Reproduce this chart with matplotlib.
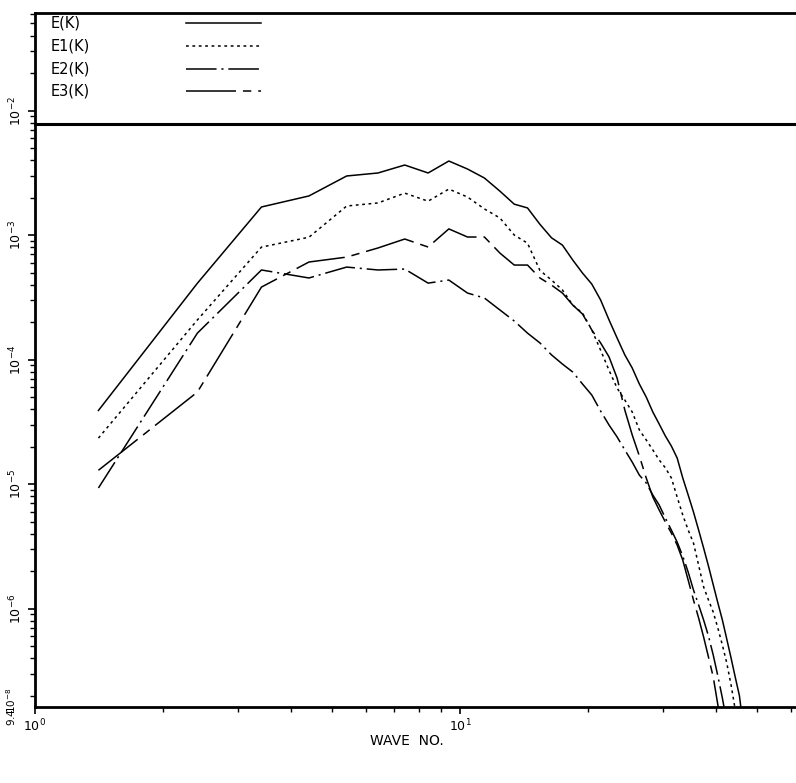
import matplotlib

matplotlib.use("Agg")
import matplotlib.pyplot as plt
import numpy as np
from matplotlib.ticker import LogLocator, NullFormatter

plt.rcParams["font.family"] = ["DejaVu Sans"]
plt.rcParams["mathtext.default"] = "regular"
plt.rcParams["lines.scale_dashes"] = False

# wave numbers of the shells
wave_no = [1.41, 2.41, 3.41, 4.41, 5.41, 6.41, 7.41, 8.41, 9.41, 10.41,
           11.41, 12.41, 13.41, 14.41, 15.41, 16.41, 17.41, 18.41, 19.41, 20.41,
           21.41, 22.41, 23.41, 24.41, 25.41, 26.41, 27.41, 28.41, 29.41, 30.41,
           31.41, 32.41, 33.41, 34.41, 35.41, 36.41, 37.41, 38.41, 39.41, 40.41,
           41.41, 42.41, 43.41, 44.41, 45.41, 46.41]

E = [3.9e-5, 4.1e-4, 1.68e-3, 2.06e-3, 2.98e-3, 3.15e-3, 3.65e-3, 3.15e-3, 3.93e-3, 3.39e-3,
     2.87e-3, 2.25e-3, 1.77e-3, 1.65e-3, 1.22e-3, 9.5e-4, 8.3e-4, 6.3e-4, 4.95e-4, 4.04e-4,
     3.01e-4, 2.08e-4, 1.49e-4, 1.09e-4, 8.55e-5, 6.36e-5, 5.0e-5, 3.79e-5, 3.03e-5, 2.43e-5,
     2.02e-5, 1.62e-5, 1.12e-5, 8.16e-6, 5.96e-6, 4.27e-6, 3.06e-6, 2.19e-6, 1.55e-6, 1.11e-6,
     8.09e-7, 5.68e-7, 4.0e-7, 2.8e-7, 2.0e-7, 1.1e-7]

E1 = [2.34e-5, 2.08e-4, 8.0e-4, 9.6e-4, 1.71e-3, 1.81e-3, 2.17e-3, 1.87e-3, 2.34e-3, 2.02e-3,
      1.62e-3, 1.37e-3, 1.0e-3, 8.6e-4, 5.2e-4, 4.35e-4, 3.62e-4, 2.74e-4, 2.36e-4, 1.73e-4,
      1.19e-4, 8.2e-5, 5.9e-5, 4.73e-5, 3.79e-5, 2.72e-5, 2.26e-5, 1.88e-5, 1.56e-5, 1.35e-5,
      1.12e-5, 7.87e-6, 5.64e-6, 4.27e-6, 3.36e-6, 2.23e-6, 1.49e-6, 1.17e-6, 9.37e-7, 6.97e-7,
      5.09e-7, 3.65e-7, 2.43e-7, 1.53e-7, 1.0e-7]

E2 = [9.3e-6, 1.63e-4, 5.24e-4, 4.52e-4, 5.53e-4, 5.24e-4, 5.33e-4, 4.11e-4, 4.35e-4, 3.42e-4,
      3.12e-4, 2.50e-4, 2.04e-4, 1.63e-4, 1.36e-4, 1.09e-4, 9.2e-5, 7.94e-5, 6.36e-5, 5.19e-5,
      3.86e-5, 2.98e-5, 2.39e-5, 1.88e-5, 1.50e-5, 1.18e-5, 1.02e-5, 8.16e-6, 6.78e-6, 5.33e-6,
      4.27e-6, 3.42e-6, 2.64e-6, 1.96e-6, 1.41e-6, 1.07e-6, 8.09e-7, 6.01e-7, 4.23e-7, 2.87e-7,
      1.91e-7, 1.22e-7]

E3 = [1.29e-5, 5.48e-5, 3.82e-4, 6.07e-4, 6.65e-4, 7.87e-4, 9.29e-4, 8.01e-4, 1.12e-3, 9.64e-4,
      9.64e-4, 7.16e-4, 5.74e-4, 5.74e-4, 4.52e-4, 3.96e-4, 3.42e-4, 2.74e-4, 2.32e-4, 1.73e-4,
      1.36e-4, 1.05e-4, 7.10e-5, 3.93e-5, 2.48e-5, 1.68e-5, 1.12e-5, 7.87e-6, 6.18e-6, 4.95e-6,
      4.04e-6, 3.24e-6, 2.45e-6, 1.69e-6, 1.17e-6, 8.39e-7, 5.90e-7, 4.07e-7, 2.82e-7, 1.68e-7,
      1.06e-7]

labels = ["E(K)", "E1(K)", "E2(K)", "E3(K)"]
dash_styles = [None, (2.0, 2.6), (22, 3.5, 1.5, 3.5), (36, 5, 6, 5)]

fig = plt.figure(figsize=(7.96, 7.83), dpi=100)
ax = fig.add_axes([35 / 796, 76 / 783, 761 / 796, 694 / 783])
ax.set_xscale("log")
ax.set_yscale("log")
ax.set_xlim(1.0, 61.7)
ax.set_ylim(1.62e-7, 6.07e-2)

series = [E, E1, E2, E3]
for vals, dash in zip(series, dash_styles):
    x = np.array(wave_no[:len(vals)])
    if dash is None:
        ax.plot(x, vals, color="black", lw=1.1)
    else:
        ax.plot(x, vals, color="black", lw=1.1, dashes=dash)

# legend panel at the top of the frame
box_y = (707 - 124) / 694
ax.plot([0, 1], [box_y, box_y], transform=ax.transAxes, color="black", lw=2.2,
        clip_on=False)
rows = [0.985, 0.952, 0.919, 0.888]
for lab, dash, yy in zip(labels, dash_styles, rows):
    ax.text(0.02, yy, lab, transform=ax.transAxes, fontsize=10.5, va="center", ha="left")
    kw = dict(transform=ax.transAxes, color="black", lw=1.1)
    if dash is not None:
        kw["dashes"] = dash
    ax.plot([0.198, 0.297], [yy, yy], **kw)

for side in ("left", "bottom", "top"):
    ax.spines[side].set_linewidth(2.0)
ax.spines["right"].set_visible(False)

ax.set_xticks([1, 10])
ax.set_xticklabels([r"$10^0$", r"$10^1$"], fontsize=9)
ax.xaxis.set_minor_locator(LogLocator(base=10, subs=np.arange(2, 10)))
ax.xaxis.set_minor_formatter(NullFormatter())

ax.set_yticks([1e-6, 1e-5, 1e-4, 1e-3, 1e-2])
ax.set_yticklabels([r"$10^{-6}$", r"$10^{-5}$", r"$10^{-4}$", r"$10^{-3}$", r"$10^{-2}$"],
                   fontsize=9, rotation=90, va="center")
ax.yaxis.set_minor_locator(LogLocator(base=10, subs=np.arange(2, 10), numticks=20))
ax.yaxis.set_minor_formatter(NullFormatter())

ax.tick_params(which="major", direction="out", length=5, width=1.2, pad=3)
ax.tick_params(which="minor", direction="out", length=3.5, width=1.0)
ax.tick_params(axis="x", top=False)

ax.text(-0.022, 0.0, r"$9.4\!\!10^{-8}$", transform=ax.transAxes, rotation=90,
        fontsize=7.5, ha="right", va="center")

ax.set_xlabel("WAVE  NO.", fontsize=10)
ax.xaxis.set_label_coords(0.489, -0.049)
ax.xaxis.label.set_va("center")

fig.savefig("out.png", dpi=100)
